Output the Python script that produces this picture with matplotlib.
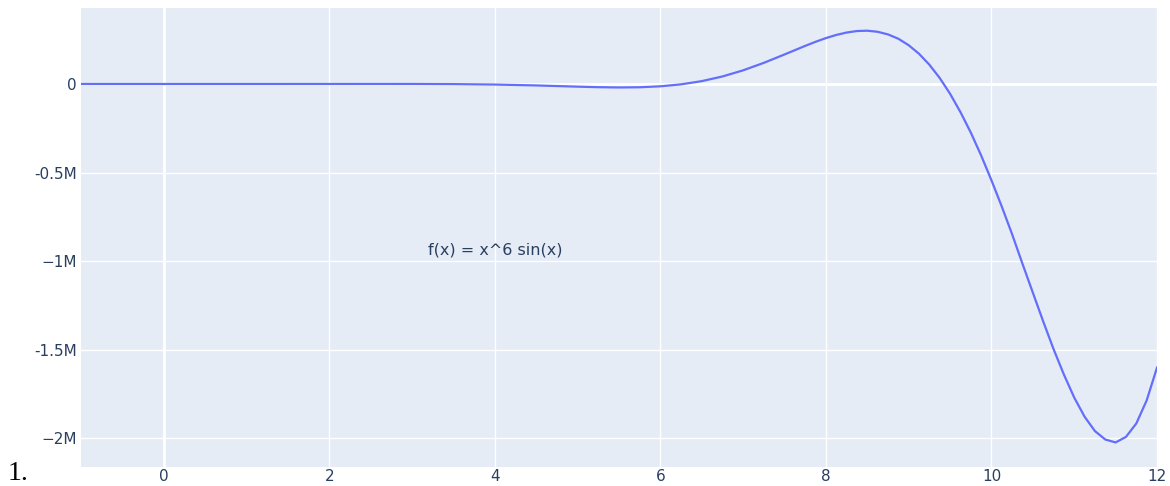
import numpy as np
import matplotlib.pyplot as plt
from matplotlib.ticker import FixedLocator

xs = [-1, -0.5, 0, 0.5, 1, 1.5, 2, 2.5, 3, 3.5, 4, 4.5, 5, 5.25, 5.5, 5.75,
      6, 6.25, 6.5, 6.75, 7, 7.25, 7.5, 7.75, 7.875, 8, 8.125, 8.25, 8.375,
      8.5, 8.625, 8.75, 8.875, 9, 9.125, 9.25, 9.375, 9.5, 9.625, 9.75,
      9.875, 10, 10.125, 10.25, 10.375, 10.5, 10.625, 10.75, 10.875, 11,
      11.125, 11.25, 11.375, 11.5, 11.625, 11.75, 11.875, 12]
ys = [-1, 0, 0, 0, 1, 11, 58, 145, 103, -645, -3100, -8117, -14983, -17985,
      -19529, -18371, -13037, -1979, 16223, 42563, 77295, 119560, 166943,
      215486, 238463, 259363, 277200, 290740, 299315, 301154, 295048,
      280183, 255766, 219007, 170764, 109055, 33743, -55279, -158457,
      -274043, -403377, -544021, -692875, -849590, -1016073, -1178882,
      -1341170, -1497621, -1641420, -1771546, -1879525, -1960796,
      -2008544, -2025085, -1993709, -1917947, -1787927, -1602195]

ytick_vals = [0, -500000, -1000000, -1500000, -2000000]
ytick_labels = ['0', '-0.5M', '\u22121M', '-1.5M', '\u22122M']
xtick_vals = [0, 2, 4, 6, 8, 10, 12]

plt.rcParams['font.family'] = ['DejaVu Sans']

fig = plt.figure(figsize=(11.7, 4.86), dpi=100)
ax = fig.add_axes([81 / 1170, 1 - 466.5 / 486, (1157 - 81) / 1170, (466.5 - 8) / 486])
ax.set_facecolor('#E5ECF6')

ax.plot(xs, ys, color='#636efa', lw=1.6, zorder=3, solid_joinstyle='round')

ax.set_xlim(-1, 12)
ax.set_ylim(-2161000, 429400)

ax.xaxis.set_major_locator(FixedLocator(xtick_vals))
ax.set_yticks(ytick_vals)
ax.set_yticklabels(ytick_labels)
ax.grid(True, color='white', lw=1, zorder=1)
ax.axhline(0, color='white', lw=2, zorder=2)
ax.axvline(0, color='white', lw=2, zorder=2)
ax.set_axisbelow(True)

for s in ax.spines.values():
    s.set_visible(False)
ax.tick_params(length=0, labelsize=11, colors='#2a3f5f')
ax.tick_params(axis='x', pad=2)
ax.tick_params(axis='y', pad=3)

ax.text(4, -940000, 'f(x) = x^6 sin(x)', ha='center', va='center',
        fontsize=11.5, color='#2a3f5f')

# list number left over from the page the chart came from
fig.text(8 / 1170, 1 - 480 / 486, '1.', fontsize=20, family='Liberation Serif',
         va='baseline', ha='left', color='black')

fig.savefig('out.png', dpi=100)
